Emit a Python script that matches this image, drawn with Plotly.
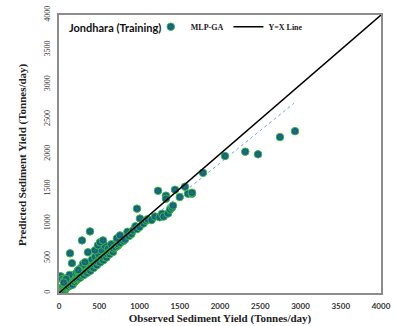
import plotly.graph_objects as go

# Observed vs predicted sediment yield (Tonnes/day)
observed = [
    5, 10, 15, 20, 25, 30, 35, 40, 45, 50, 55, 60, 65, 70, 75, 80, 85, 90, 95, 100,
    20, 40, 60, 80, 110, 115, 120, 130, 140, 145, 150, 160, 165, 170, 180, 190, 195, 200,
    210, 215, 220, 230, 240, 250, 255, 260, 270, 280, 290, 300, 300, 310, 320, 330, 340,
    350, 360, 370, 380, 390, 400, 410, 420, 430, 440, 450, 460, 470, 480, 490, 500, 510,
    520, 530, 540, 550, 560, 570, 580, 590, 600, 610, 620, 630, 640, 650, 660, 670, 680,
    700, 720, 730, 740, 760, 780, 800, 820, 850, 870, 900, 920, 950, 970, 1000,
    137, 161, 286, 385, 360, 447, 484, 323, 509, 547, 720, 758, 240, 130, 90, 60,
    969, 1006, 1050, 1080, 1100, 1150, 1193, 1230, 1250, 1280, 1300, 1329, 1329, 1354,
    1380, 1404, 1416, 1441, 1500, 1565, 1602, 1652, 1652, 1789,
    2062, 2314, 2472, 2745, 2932,
]
predicted = [
    10, 30, 5, 60, 20, 40, 15, 80, 35, 50, 100, 45, 70, 30, 120, 60, 90, 75, 140, 85,
    240, 200, 180, 210, 100, 160, 95, 130, 190, 110, 140, 250, 150, 120, 170, 220, 160, 190,
    280, 180, 200, 310, 210, 235, 300, 220, 360, 250, 270, 420, 280, 260, 300, 380, 310,
    290, 330, 440, 350, 320, 370, 480, 390, 360, 410, 520, 420, 400, 450, 560, 460, 440,
    490, 620, 500, 470, 520, 680, 540, 510, 560, 640, 580, 560, 600, 700, 610, 590, 640,
    660, 760, 680, 700, 720, 800, 750, 770, 880, 820, 850, 900, 960, 920, 950,
    571, 429, 757, 886, 586, 614, 686, 443, 729, 757, 786, 829, 330, 260, 200, 150,
    1214, 1071, 1000, 1040, 1060, 1050, 1100, 1471, 1090, 1140, 1100, 1400, 1357, 1143,
    1200, 1229, 1257, 1486, 1380, 1529, 1429, 1429, 1443, 1729,
    1971, 2033, 1996, 2243, 2329,
]

yx_line = [0, 4000]
trend_x = [0, 2920]
trend_y = [0, 2730]

axis_ticks = [0, 500, 1000, 1500, 2000, 2500, 3000, 3500, 4000]

fig = go.Figure()

fig.add_trace(go.Scatter(
    x=trend_x, y=trend_y, mode="lines",
    line=dict(color="#6fa8dc", width=1, dash="dot"),
    showlegend=False, hoverinfo="skip",
))

fig.add_trace(go.Scatter(
    x=observed, y=predicted, mode="markers", name="<b>MLP-GA</b>",
    marker=dict(size=7.5, color="#1a45a5",
                gradient=dict(type="radial", color="#178060"),
                line=dict(color="#35c035", width=1)),
))

fig.add_trace(go.Scatter(
    x=yx_line, y=yx_line, mode="lines", name="<b>Y=X Line</b>",
    line=dict(color="black", width=1.5),
))

serif = "Liberation Serif"
fig.update_layout(
    width=396, height=326,
    margin=dict(l=59, r=15, t=13, b=33),
    paper_bgcolor="white", plot_bgcolor="white",
    showlegend=True,
    legend=dict(orientation="h", x=0.285, y=1.01, xanchor="left", yanchor="top",
                font=dict(family=serif, size=8, color="#222"),
                bgcolor="rgba(0,0,0,0)", itemwidth=30,
                tracegroupgap=0),
    annotations=[
        dict(text="<b>Jondhara (Training)</b>", xref="paper", yref="paper",
             x=0.025, y=0.955, xanchor="left", yanchor="middle",
             showarrow=False, font=dict(family="Lato", size=11, color="#111")),
        dict(text="<b>Predicted Sediment Yield (Tonnes/day)</b>", xref="paper", yref="paper",
             x=-0.115, y=0.5, xanchor="center", yanchor="middle", textangle=-90,
             showarrow=False, font=dict(family=serif, size=11, color="#222")),
    ],
)

fig.update_xaxes(
    range=[0, 4000], tickvals=axis_ticks, ticktext=[f"<b>{v}</b>" for v in axis_ticks],
    showgrid=False, zeroline=False, showline=True, linecolor="#8c8c8c", linewidth=1.5,
    mirror=True, ticks="", tickfont=dict(family="Lato", size=8, color="#333"),
    automargin=False, ticklabelstandoff=5,
    title=dict(text="<b>Observed Sediment Yield (Tonnes/day)</b>", standoff=4,
               font=dict(family=serif, size=11, color="#222")),
)
fig.update_yaxes(
    range=[0, 4000], tickvals=axis_ticks, tickangle=-90,
    showgrid=False, zeroline=False, showline=True, linecolor="#8c8c8c", linewidth=1.5,
    mirror=True, ticks="", tickfont=dict(family=serif, size=8, color="#333"),
    automargin=False, ticklabelstandoff=4,
)

fig.write_html("out.html")
